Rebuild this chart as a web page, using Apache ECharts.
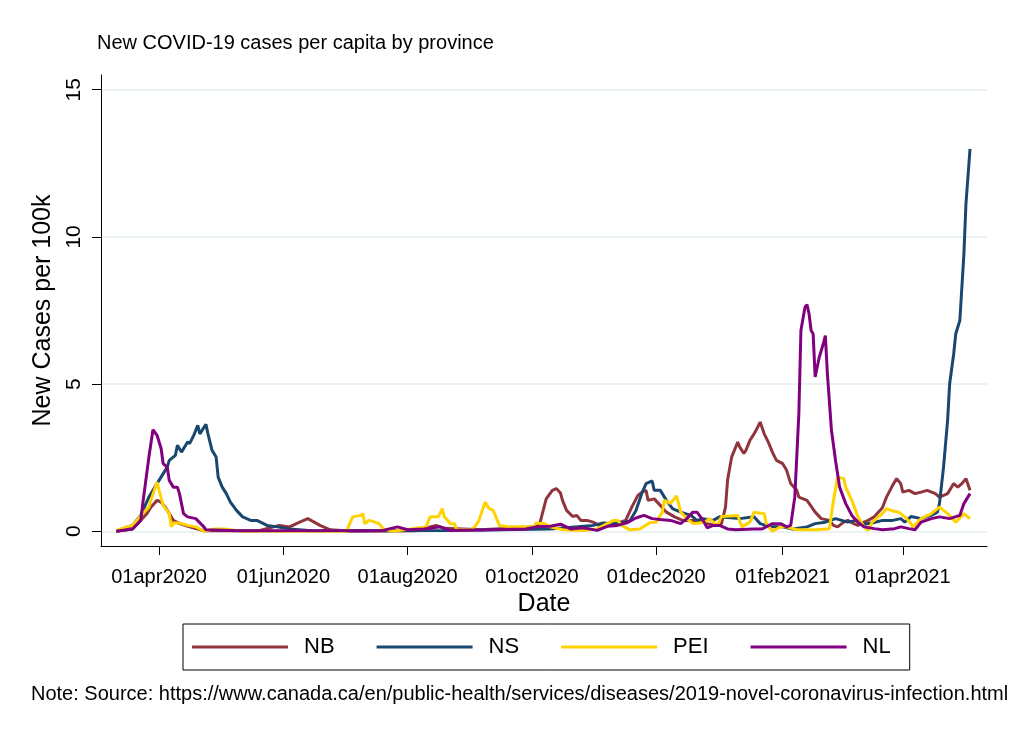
<!DOCTYPE html>
<html>
<head>
<meta charset="utf-8">
<script src="https://cdn.jsdelivr.net/npm/echarts@6/dist/echarts.min.js"></script>
<style>
html,body{margin:0;padding:0;background:#fff;}
#chart{width:1013px;height:737px;}
</style>
</head>
<body>
<div id="chart"></div>
<script>
var seriesNames = ['NB', 'NS', 'PEI', 'NL'];
var yTicks = [0, 5, 10, 15];
var xTicks = ['2020-04-01', '2020-06-01', '2020-08-01', '2020-10-01', '2020-12-01', '2021-02-01', '2021-04-01'];
var monthNames = ['jan','feb','mar','apr','may','jun','jul','aug','sep','oct','nov','dec'];

var nbData = [
['2020-03-11',0],['2020-03-19',0.08],['2020-03-26',0.6],['2020-03-28',0.82],['2020-03-31',1.05],
['2020-04-02',0.99],['2020-04-04',0.82],['2020-04-06',0.6],['2020-04-08',0.37],['2020-04-11',0.26],
['2020-04-16',0.15],['2020-04-23',0.02],['2020-05-20',0.02],['2020-05-30',0.2],['2020-06-04',0.15],
['2020-06-09',0.31],['2020-06-13',0.43],['2020-06-19',0.2],['2020-06-24',0.05],['2020-07-05',0],
['2020-08-05',0.02],['2020-08-12',0.15],['2020-08-15',0.2],['2020-08-19',0.1],['2020-09-06',0.05],
['2020-09-20',0.1],['2020-10-03',0.15],['2020-10-05',0.3],['2020-10-08',1.1],['2020-10-11',1.39],
['2020-10-13',1.45],['2020-10-15',1.3],['2020-10-16',1.05],['2020-10-18',0.71],['2020-10-21',0.5],
['2020-10-23',0.54],['2020-10-25',0.37],['2020-10-28',0.37],['2020-10-31',0.31],['2020-11-03',0.2],
['2020-11-06',0.26],['2020-11-11',0.26],['2020-11-16',0.37],['2020-11-19',0.82],['2020-11-22',1.22],
['2020-11-24',1.33],['2020-11-26',1.39],['2020-11-27',1.05],['2020-11-30',1.1],['2020-12-03',0.88],
['2020-12-06',0.65],['2020-12-10',0.49],['2020-12-14',0.37],['2020-12-22',0.37],['2020-12-26',0.26],
['2020-12-31',0.2],['2021-01-02',0.26],['2021-01-04',0.82],['2021-01-05',1.73],['2021-01-07',2.52],
['2021-01-10',3.03],['2021-01-11',2.86],['2021-01-13',2.64],['2021-01-14',2.75],['2021-01-16',3.09],
['2021-01-18',3.31],['2021-01-19',3.43],['2021-01-21',3.71],['2021-01-23',3.31],['2021-01-25',3.03],
['2021-01-27',2.69],['2021-01-29',2.41],['2021-02-01',2.3],['2021-02-03',2.07],['2021-02-05',1.62],
['2021-02-08',1.39],['2021-02-09',1.16],['2021-02-13',1.05],['2021-02-17',0.65],['2021-02-20',0.43],
['2021-02-24',0.37],['2021-02-26',0.2],['2021-02-28',0.15],['2021-03-03',0.31],['2021-03-05',0.37],
['2021-03-08',0.26],['2021-03-10',0.2],['2021-03-13',0.31],['2021-03-15',0.37],['2021-03-18',0.49],
['2021-03-22',0.8],['2021-03-24',1.16],['2021-03-27',1.56],['2021-03-29',1.79],['2021-03-31',1.62],
['2021-04-01',1.33],['2021-04-04',1.39],['2021-04-07',1.28],['2021-04-10',1.33],['2021-04-13',1.39],
['2021-04-17',1.28],['2021-04-19',1.16],['2021-04-23',1.28],['2021-04-26',1.62],['2021-04-28',1.5],
['2021-04-30',1.62],['2021-05-02',1.79],['2021-05-04',1.39]
];

var nsData = [
['2020-03-11',0],['2020-03-19',0.2],['2020-03-23',0.54],['2020-03-27',1.16],['2020-03-29',1.39],
['2020-04-01',1.73],['2020-04-05',2.18],['2020-04-06',2.41],['2020-04-09',2.58],['2020-04-10',2.92],
['2020-04-12',2.69],['2020-04-15',3.03],['2020-04-16',2.98],['2020-04-18',3.26],['2020-04-20',3.6],
['2020-04-21',3.31],['2020-04-24',3.63],['2020-04-25',3.31],['2020-04-27',2.75],['2020-04-29',2.52],
['2020-04-30',1.84],['2020-05-02',1.5],['2020-05-04',1.28],['2020-05-06',0.99],['2020-05-09',0.71],
['2020-05-12',0.49],['2020-05-16',0.37],['2020-05-19',0.37],['2020-05-24',0.2],['2020-05-29',0.15],
['2020-06-04',0.08],['2020-06-15',0.02],['2020-08-20',0.03],['2020-09-15',0.05],['2020-10-10',0.08],
['2020-10-31',0.2],['2020-11-05',0.28],['2020-11-10',0.26],['2020-11-14',0.28],['2020-11-18',0.35],
['2020-11-21',0.7],['2020-11-24',1.3],['2020-11-26',1.62],['2020-11-29',1.71],['2020-11-30',1.39],
['2020-12-03',1.39],['2020-12-06',1.05],['2020-12-09',0.77],['2020-12-13',0.65],['2020-12-18',0.54],
['2020-12-21',0.37],['2020-12-24',0.43],['2020-12-29',0.37],['2021-01-01',0.49],['2021-01-05',0.47],
['2021-01-11',0.43],['2021-01-18',0.49],['2021-01-21',0.26],['2021-01-26',0.15],['2021-02-01',0.15],
['2021-02-06',0.08],['2021-02-13',0.15],['2021-02-17',0.26],['2021-02-22',0.31],['2021-02-27',0.43],
['2021-03-02',0.37],['2021-03-05',0.31],['2021-03-09',0.37],['2021-03-13',0.24],['2021-03-17',0.28],
['2021-03-22',0.37],['2021-03-27',0.37],['2021-03-31',0.43],['2021-04-02',0.31],['2021-04-05',0.5],
['2021-04-10',0.43],['2021-04-15',0.54],['2021-04-18',0.65],['2021-04-19',0.94],['2021-04-21',2.18],
['2021-04-23',3.77],['2021-04-24',5.01],['2021-04-26',6.03],['2021-04-27',6.71],['2021-04-29',7.16],
['2021-05-01',9.42],['2021-05-02',11.12],['2021-05-04',12.99]
];

var peiData = [
['2020-03-11',0.02],['2020-03-16',0.15],['2020-03-19',0.2],['2020-03-24',0.6],['2020-03-27',0.82],
['2020-03-28',1.05],['2020-03-31',1.67],['2020-04-01',1.39],['2020-04-03',0.88],['2020-04-06',0.6],
['2020-04-07',0.15],['2020-04-08',0.28],['2020-04-11',0.28],['2020-04-15',0.2],['2020-04-19',0.15],
['2020-04-23',0],['2020-04-28',0.08],['2020-05-03',0.08],['2020-05-12',0],['2020-07-02',0],
['2020-07-05',0.49],['2020-07-09',0.54],['2020-07-10',0.6],['2020-07-11',0.25],['2020-07-13',0.37],
['2020-07-16',0.31],['2020-07-18',0.26],['2020-07-20',0.08],['2020-07-25',0],['2020-08-10',0.15],
['2020-08-12',0.49],['2020-08-16',0.49],['2020-08-18',0.77],['2020-08-19',0.49],['2020-08-22',0.26],
['2020-08-24',0.26],['2020-08-25',0.05],['2020-09-01',0.05],['2020-09-03',0.15],['2020-09-05',0.37],
['2020-09-08',0.99],['2020-09-10',0.77],['2020-09-12',0.71],['2020-09-14',0.37],['2020-09-15',0.2],
['2020-09-20',0.15],['2020-09-25',0.15],['2020-10-02',0.15],['2020-10-03',0.28],['2020-10-07',0.26],
['2020-10-10',0.15],['2020-10-16',0.05],['2020-10-26',0.03],['2020-11-02',0.08],['2020-11-07',0.26],
['2020-11-10',0.37],['2020-11-12',0.37],['2020-11-14',0.2],['2020-11-18',0.05],['2020-11-23',0.08],
['2020-11-28',0.3],['2020-12-01',0.31],['2020-12-04',0.65],['2020-12-05',1.05],['2020-12-08',0.95],
['2020-12-11',1.2],['2020-12-13',0.65],['2020-12-16',0.43],['2020-12-19',0.26],['2020-12-22',0.28],
['2020-12-25',0.31],['2020-12-27',0.43],['2020-12-31',0.2],['2021-01-02',0.5],['2021-01-10',0.54],
['2021-01-12',0.15],['2021-01-16',0.31],['2021-01-18',0.65],['2021-01-23',0.6],['2021-01-24',0.26],
['2021-01-27',0],['2021-01-31',0.15],['2021-02-03',0.15],['2021-02-08',0.05],['2021-02-18',0.05],
['2021-02-24',0.09],['2021-02-26',1.05],['2021-02-28',1.84],['2021-03-03',1.79],['2021-03-04',1.5],
['2021-03-07',1.05],['2021-03-10',0.49],['2021-03-13',0.15],['2021-03-15',0.03],['2021-03-17',0.31],
['2021-03-19',0.43],['2021-03-22',0.6],['2021-03-24',0.77],['2021-03-27',0.69],['2021-03-30',0.65],
['2021-04-02',0.49],['2021-04-05',0.26],['2021-04-06',0.15],['2021-04-10',0.43],['2021-04-15',0.6],
['2021-04-19',0.82],['2021-04-23',0.6],['2021-04-27',0.31],['2021-05-01',0.6],['2021-05-04',0.43]
];

var nlData = [
['2020-03-11',0],['2020-03-19',0.08],['2020-03-23',0.37],['2020-03-24',0.94],['2020-03-27',2.52],
['2020-03-29',3.45],['2020-03-31',3.26],['2020-04-02',2.81],['2020-04-03',2.3],['2020-04-05',2.18],
['2020-04-06',1.73],['2020-04-08',1.5],['2020-04-10',1.5],['2020-04-11',1.28],['2020-04-13',0.6],
['2020-04-15',0.49],['2020-04-19',0.43],['2020-04-23',0.15],['2020-04-24',0.05],['2020-05-10',0.02],
['2020-07-20',0.03],['2020-07-27',0.15],['2020-08-01',0.05],['2020-08-09',0.08],['2020-08-17',0.15],
['2020-08-22',0.03],['2020-09-10',0.05],['2020-09-28',0.08],['2020-10-03',0.15],['2020-10-10',0.17],
['2020-10-15',0.24],['2020-10-20',0.08],['2020-10-26',0.12],['2020-11-02',0.03],['2020-11-07',0.17],
['2020-11-12',0.2],['2020-11-17',0.3],['2020-11-21',0.45],['2020-11-25',0.54],['2020-11-29',0.43],
['2020-12-03',0.4],['2020-12-08',0.37],['2020-12-13',0.26],['2020-12-16',0.43],['2020-12-19',0.65],
['2020-12-21',0.65],['2020-12-24',0.37],['2020-12-26',0.12],['2020-12-29',0.2],['2021-01-01',0.2],
['2021-01-05',0.08],['2021-01-09',0.05],['2021-01-18',0.08],['2021-01-22',0.08],['2021-01-27',0.26],
['2021-01-31',0.26],['2021-02-03',0.15],['2021-02-05',0.2],['2021-02-07',1.16],['2021-02-09',4.0],
['2021-02-10',6.82],['2021-02-12',7.61],['2021-02-13',7.7],['2021-02-14',7.39],['2021-02-15',6.82],
['2021-02-16',6.71],['2021-02-17',5.24],['2021-02-19',5.91],['2021-02-21',6.37],['2021-02-22',6.65],
['2021-02-23',5.35],['2021-02-25',3.43],['2021-02-27',2.4],['2021-03-01',1.5],['2021-03-04',0.94],
['2021-03-07',0.54],['2021-03-10',0.31],['2021-03-13',0.15],['2021-03-18',0.09],['2021-03-22',0.05],
['2021-03-28',0.09],['2021-03-31',0.15],['2021-04-04',0.09],['2021-04-07',0.05],['2021-04-10',0.31],
['2021-04-15',0.43],['2021-04-19',0.49],['2021-04-24',0.43],['2021-04-29',0.54],['2021-05-01',0.94],
['2021-05-04',1.28]
];

var seriesData = [nbData, nsData, peiData, nlData];
var seriesColors = ['#90353B', '#1A476F', '#FFD200', '#800080'];

function toTime(s) {
  var p = s.split('-');
  return Date.UTC(+p[0], +p[1] - 1, +p[2]);
}
function toPoints(arr) {
  return arr.map(function (r) { return [toTime(r[0]), r[1]]; });
}

var chart = echarts.init(document.getElementById('chart'), null, {renderer: 'canvas'});
var FONT = '"Liberation Sans", Arial, sans-serif';
var DAY = 86400000;

var option = {
  animation: false,
  backgroundColor: '#ffffff',
  textStyle: {fontFamily: FONT, color: '#000'},
  title: [
    {text: 'New COVID-19 cases per capita by province', left: 97, top: 33, padding: 0,
     textStyle: {fontFamily: FONT, fontSize: 20, fontWeight: 'normal', color: '#000'}},
    {text: 'Note: Source: https://www.canada.ca/en/public-health/services/diseases/2019-novel-coronavirus-infection.html',
     left: 31, top: 684, padding: 0,
     textStyle: {fontFamily: FONT, fontSize: 20, fontWeight: 'normal', color: '#000'}}
  ],
  legend: {
    left: 183, top: 624,
    orient: 'horizontal',
    padding: [12, 19, 12, 9],
    borderColor: '#000', borderWidth: 1,
    itemWidth: 96, itemHeight: 3, itemGap: 42,
    icon: 'rect',
    data: seriesNames,
    textStyle: {fontFamily: FONT, fontSize: 22, color: '#000', padding: [0, 0, 0, 11]}
  },
  grid: {left: 101, right: 26, top: 75, bottom: 191, containLabel: false},
  xAxis: {
    type: 'value',
    min: toTime('2020-03-03') + DAY / 2,
    max: toTime('2021-05-12') + DAY / 3,
    name: 'Date', nameLocation: 'middle', nameGap: 39,
    nameTextStyle: {fontFamily: FONT, fontSize: 25, color: '#000'},
    axisLine: {onZero: false, lineStyle: {color: '#000', width: 1}},
    axisTick: {show: true, length: 9, customValues: xTicks.map(toTime), lineStyle: {color: '#000'}},
    axisLabel: {
      customValues: xTicks.map(toTime), margin: 21, fontFamily: FONT, fontSize: 20, color: '#000',
      formatter: function (v) {
        var d = new Date(v);
        return '01' + monthNames[d.getUTCMonth()] + d.getUTCFullYear();
      }
    },
    splitLine: {show: false}
  },
  yAxis: {
    type: 'value', min: -0.5, max: 15.5,
    name: 'New Cases per 100k', nameLocation: 'middle', nameGap: 45, nameRotate: 90,
    nameTextStyle: {fontFamily: FONT, fontSize: 25, color: '#000'},
    axisLine: {show: true, lineStyle: {color: '#000', width: 1}},
    axisTick: {show: true, length: 9, customValues: yTicks, lineStyle: {color: '#000'}},
    axisLabel: {customValues: yTicks, rotate: 90, margin: 16, fontFamily: FONT, fontSize: 21, color: '#000'},
    splitLine: {show: true, lineStyle: {color: '#EAF2F3', width: 2}}
  },
  series: seriesNames.map(function (n, i) {
    return {
      name: n, type: 'line', data: toPoints(seriesData[i]), showSymbol: false, symbol: 'none',
      lineStyle: {width: 3, color: seriesColors[i]}, itemStyle: {color: seriesColors[i]},
      emphasis: {disabled: true}
    };
  })
};
chart.setOption(option);
</script>
</body>
</html>
